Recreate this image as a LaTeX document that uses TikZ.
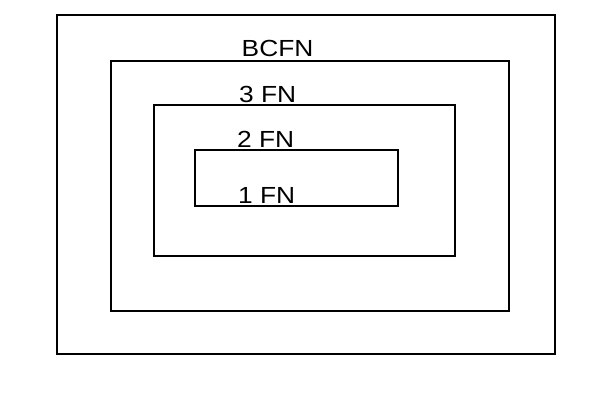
\documentclass[tikz,border=0pt]{standalone}
\usepackage{fontspec}
\setmainfont{Liberation Sans}
\tikzset{
  frame/.style={draw=black, line width=2pt},
  lbl/.style={anchor=base west, inner sep=0pt, font=\fontsize{23.3}{28}\selectfont}
}
\newcommand{\wide}[1]{\scalebox{1.13}[1]{#1}}
\begin{document}
\begin{tikzpicture}[x=1pt,y=-1pt]
\useasboundingbox (0,0) rectangle (600,400);
\draw[frame] (57,15) rectangle (555,354);
\draw[frame] (111,61) rectangle (509,311);
\draw[frame] (154,105) rectangle (455,256);
\draw[frame] (195,150) rectangle (398,206);
\node[lbl] (bcfn) at (241.5,56) {\wide{BCFN}};
\node[lbl] (fn3) at (239,102.5) {\wide{3 FN}};
\node[lbl] (fn2) at (237,147) {\wide{2 FN}};
\node[lbl] (fn1) at (238,203) {\wide{1 FN}};
\end{tikzpicture}
\end{document}
